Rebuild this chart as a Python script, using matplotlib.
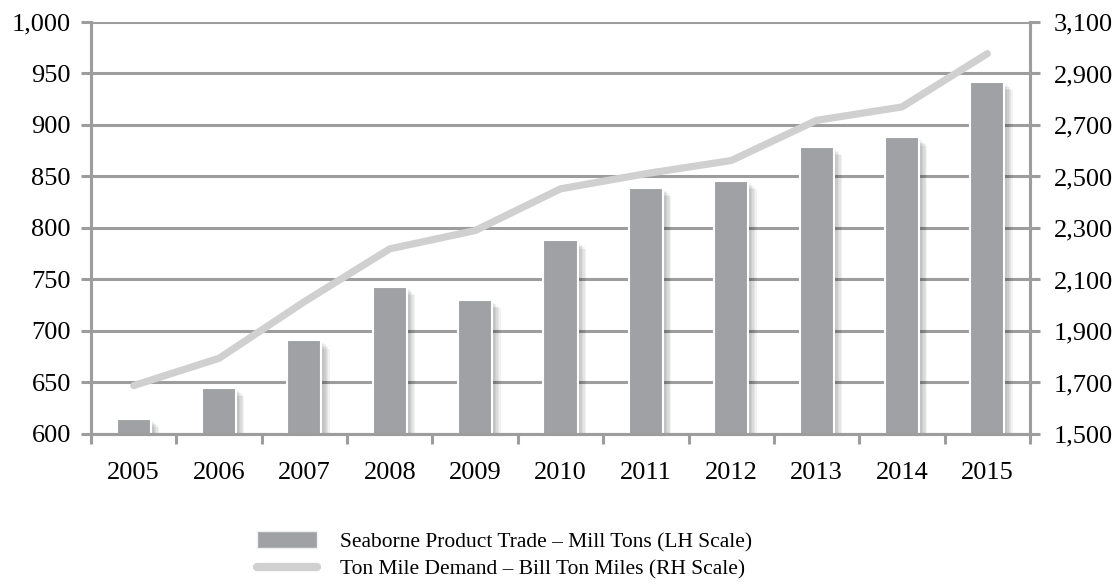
import matplotlib.pyplot as plt
import matplotlib.patheffects as pe
from matplotlib.patches import Patch
from matplotlib.lines import Line2D
import numpy as np

years = ["2005", "2006", "2007", "2008", "2009", "2010",
         "2011", "2012", "2013", "2014", "2015"]
trade_mt = [615, 645, 691, 743, 730, 788, 839, 846, 879, 888, 942]
ton_miles = [1688, 1794, 2014, 2219, 2290, 2452, 2511, 2562, 2718, 2770, 2977]

plt.rcParams['font.family'] = ['Liberation Serif', 'DejaVu Serif']

bar_col = "#a0a1a5"
line_col = "#d0d0d0"
grid_col = "#9d9d9d"

fig = plt.figure(figsize=(11.18, 5.86), dpi=100)
ax = fig.add_axes([0.0814, 0.2594, 0.8399, 0.7031])
ax2 = ax.twinx()

x = np.arange(len(years))

ax.set_ylim(600, 1000)
ax.set_yticks(np.arange(600, 1001, 50))
ax.set_yticklabels([f"{v:,}" for v in range(600, 1001, 50)])
ax.yaxis.grid(True, color=grid_col, lw=2.2, zorder=0)
ax.set_axisbelow(True)

# soft drop shadow made of a few faint offset copies
shadow = [pe.SimplePatchShadow(offset=(d, -d), shadow_rgbFace="#000000", alpha=0.05)
          for d in (2, 3, 4, 5, 6)]
bars = ax.bar(x, trade_mt, width=0.4, color=bar_col, edgecolor="white",
              linewidth=1.5, zorder=3)
for b in bars:
    b.set_path_effects(shadow + [pe.Normal()])

ax2.set_ylim(1500, 3100)
ax2.set_yticks(np.arange(1500, 3101, 200))
ax2.set_yticklabels([f"{v:,}" for v in range(1500, 3101, 200)])
ax2.plot(x, ton_miles, color=line_col, lw=5.2, solid_capstyle="round",
         solid_joinstyle="round", zorder=4)

ax.set_xlim(-0.5, len(years) - 0.5)
ax.set_xticks(x)
ax.set_xticklabels(years)
ax.set_xticks(np.arange(-0.5, len(years), 1), minor=True)
ax.tick_params(axis="x", which="major", length=0, pad=20, labelsize=19)
ax.tick_params(axis="x", which="minor", length=7, width=2.2, color=grid_col)
ax.tick_params(axis="y", length=7.5, width=2.2, color=grid_col, labelsize=19, pad=7)
ax2.tick_params(axis="y", length=7, width=2.2, color=grid_col, labelsize=19, pad=10)

for a in (ax, ax2):
    a.spines["top"].set_visible(False)
    for s in ("left", "right", "bottom"):
        a.spines[s].set_color(grid_col)
        a.spines[s].set_linewidth(2.2)

handles = [Patch(facecolor=bar_col, edgecolor="#f0f0f0", linewidth=1),
           Line2D([0], [0], color=line_col, lw=6, solid_capstyle="round")]
labels = ["Seaborne Product Trade \u2013 Mill Tons (LH Scale)",
          "Ton Mile Demand \u2013 Bill Ton Miles (RH Scale)"]
fig.legend(handles, labels, loc="upper left", bbox_to_anchor=(0.222, 0.108),
           frameon=False, fontsize=15.5, handlelength=2.8, handleheight=0.85,
           handletextpad=1.05, labelspacing=0.3, borderaxespad=0)

fig.savefig("out.png", dpi=100)
